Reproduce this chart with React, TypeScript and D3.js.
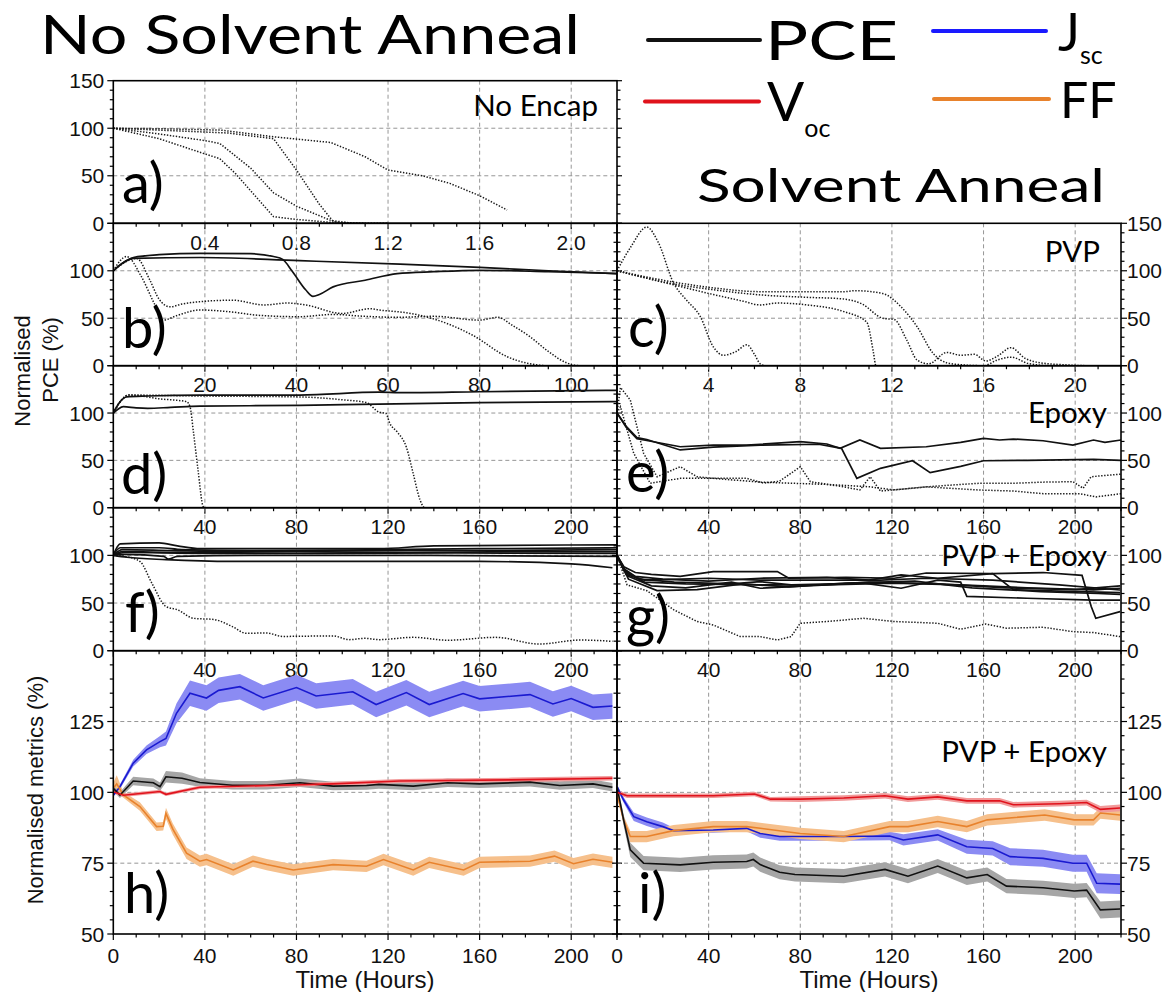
import React from 'react';
import * as d3 from 'd3';

type Pt = [number, number];
type BPt = [number, number, number];

// ---- panel a : No Encap, no anneal (hours 0..2.2)
const aDot1: Pt[] = [[0,100],[0.2,99.5],[0.47,98],[0.7,91],[0.95,85],[1.1,70],[1.2,56],[1.35,50],[1.47,42],[1.6,29],[1.72,14]];
const aDot2: Pt[] = [[0,100],[0.3,97],[0.5,95],[0.7,89],[0.8,56],[0.9,20],[0.96,2],[1.0,0],[1.2,0]];
const aDot3: Pt[] = [[0,100],[0.2,94],[0.4,87],[0.465,84],[0.6,58],[0.7,32],[0.8,18],[0.95,3],[1.05,0],[1.2,0]];
const aDot4: Pt[] = [[0,100],[0.2,89],[0.4,73],[0.465,68],[0.535,52],[0.7,7],[0.8,4],[0.95,1],[1.1,0]];

// ---- panel b : PVP, no anneal (0..110)
const bSolid1: Pt[] = [[0,100],[2,108],[4.4,114],[10,117],[19,118.4],[30,118],[35,115],[37,112],[39,100],[42,80],[43.6,73],[45,75],[48,83],[55,90],[62,97],[70,99],[80,100.5],[95,99],[110,97]];
const bSolid2: Pt[] = [[0,100],[2,108],[4.4,113],[19,114],[40.7,110.6],[62.6,107],[80,103.6],[95,100],[110,97]];
const bDot1: Pt[] = [[0,100],[2.9,115],[6,95],[9,65],[10.9,48],[14,53],[18.9,58.7],[25,57],[32,53],[40.7,51.6],[48,54],[55,52],[62,51],[70,52],[80,48],[84,51],[87,43],[91,30.5],[95,15],[99,3],[102,0],[109,0]];
const bDot2: Pt[] = [[0,100],[5.1,113],[8,90],[10,70],[12.4,62],[15,65],[18.9,67.4],[26,69],[33,64],[38,66],[42,64],[50,55],[56,60],[58,58.7],[65,55],[72.8,44.6],[78.5,32],[86,9.5],[91,2],[95,0],[109,0]];

// ---- panel c : PVP, solvent anneal (0..22)
const cDotPeak: Pt[] = [[0,100],[0.6,125],[1.3,146],[1.8,130],[2.47,87],[3.0,70],[3.63,52],[4.2,20],[4.65,11],[5.2,15],[5.67,22],[6.0,12],[6.25,2],[6.5,0],[10,0]];
const cDotA: Pt[] = [[0,100],[2.5,88],[4.2,82],[6.25,78],[8,78],[9.9,78],[10.4,79],[11.6,76],[12.4,62],[13.1,41],[13.8,13],[14.4,3],[15,1],[16,0],[16.6,6],[17.2,9],[18,2],[19,0],[20,0]];
const cDotB: Pt[] = [[0,100],[2.5,86],[4.2,80],[6.25,74.6],[8.3,72],[9.8,70.5],[10.7,65],[11.6,50],[12.1,48.6],[12.65,27],[13.1,6],[13.6,2],[14.4,14],[15,11],[15.6,12],[16.1,5],[16.6,10],[17.2,19],[17.8,8],[18.5,3],[19.5,1],[20.5,0]];
const cDotC: Pt[] = [[0,100],[2.5,85],[4.2,75],[5.5,68],[6.25,64],[7,66],[8.3,64],[9.9,57],[10.9,46],[11.2,13],[11.3,0],[12,0]];

// ---- panel d : Epoxy, no anneal (0..220)
const dSolid1: Pt[] = [[0,100],[3,112],[5.8,117],[15,118],[37.8,119],[81.5,119],[116,122],[125,121.5],[160,122.5],[220,124]];
const dSolid2: Pt[] = [[0,100],[2,104],[4.4,106.7],[10,105.5],[15,105],[25,106],[37.8,107.4],[81.5,108],[116,109.5],[160,111],[220,112]];
const dDot1: Pt[] = [[0,100],[3,112],[6.7,119],[15,117],[20,115],[26,113.8],[32,112],[33.5,106.7],[35,80],[37,40],[39.3,1],[40,0],[60,0]];
const dDot2: Pt[] = [[0,100],[3,112],[6.7,119],[37.8,118],[81.5,117],[100,114],[110.6,111],[116,101],[119,99.7],[120.8,89],[124,80],[128,64],[131,36],[134,8],[136,0],[150,0]];

// ---- panel e : Epoxy, solvent anneal (0..220)
const eSolid1: Pt[] = [[0,100],[4,85],[8.7,73],[13,71],[27.6,64.4],[42,66],[56.6,66],[62.5,67],[80,69.7],[91.6,67.3],[97.4,62.7],[106,71.5],[115,62.7],[135,64.4],[150,69],[160,73.3],[167,71.5],[173,72.5],[186,70.7],[199,66.2],[208,71.5],[213,69],[220,71.5]];
const eSolid2: Pt[] = [[0,100],[4,86],[8.7,74],[13,72],[27.6,61],[42,64],[62.5,66],[88,67],[98,62.7],[104.7,31],[115,41.6],[129,49.6],[136.7,37],[150,43.6],[160,49.6],[179,50],[208,51],[220,50]];
const eDot1: Pt[] = [[0,100],[1.5,127],[5.8,113.8],[11.6,57.5],[17.5,32.7],[27.6,43.3],[34.9,32.7],[42,31],[56.6,31],[63.9,26],[71,28],[80,43.3],[84.4,27.5],[99,22],[106,18.7],[110.5,32.7],[115,17.6],[135,22],[144,23.6],[158,25.8],[173,25.8],[186,27],[199,27.5],[203.5,20.5],[206.9,32.7],[220,35.5]];
const eDot2: Pt[] = [[0,100],[1.5,106.7],[7.3,57.5],[14.5,25.8],[27.6,31],[42,31],[62.5,27],[91.6,24.6],[110.5,22],[121,18.7],[135,22],[158,18.7],[173,17.6],[186,14.8],[202,14.8],[209,11.4],[220,14.8]];

// ---- panel f : PVP + Epoxy, no anneal
const fS1: Pt[] = [[0,100],[3,112],[20,113],[28,110],[38,107],[80,107],[116,107],[140,110],[220,111]];
const fS2: Pt[] = [[0,100],[3,108],[20,108],[30,106],[60,105],[120,106],[160,107],[220,108]];
const fS3: Pt[] = [[0,100],[4,106],[25,105],[50,104],[100,105],[150,105],[220,106]];
const fS4: Pt[] = [[0,100],[4,104],[30,103],[80,104],[130,103],[180,104],[220,104]];
const fS5: Pt[] = [[0,100],[5,103],[40,102],[90,102],[150,102.5],[220,102]];
const fS6: Pt[] = [[0,100],[5,101],[22,99],[24,96],[28,99],[60,100],[120,100],[220,99]];
const fS7: Pt[] = [[0,100],[6,98],[23,95.5],[52,93.6],[116,93.6],[160,93.6],[200,91],[218,87]];
const fDot: Pt[] = [[0,100],[5,99],[11.6,93.7],[17,70],[23,46.3],[28,43],[35,34],[44,32.7],[52,25.3],[58,18.3],[67,18.6],[74,15],[96,15.5],[103,11.6],[110,13],[116,11.6],[131,14],[146,11],[167,14],[186,7],[204,11.2],[218,9.8]];

// ---- panel g : PVP + Epoxy, solvent anneal
const gS1: Pt[] = [[0,100],[3,88],[8,82],[15,80],[27.6,78],[42,83],[62.5,83],[70,83],[75,76],[100,77],[121,76],[135,81.5],[164,80.8],[186,82],[203,79],[207,46.4],[209,34],[219.6,41]];
const gS2: Pt[] = [[0,100],[3,86],[8,78],[20,75],[40,73],[62.5,76],[91.6,77],[110,74],[124,79.6],[140,76],[164,80.8],[173,64],[193,62.5],[219.6,61]];
const gS3: Pt[] = [[0,100],[3,84],[10,75],[25,72],[50,70],[62.5,72.5],[76,69],[107.6,70.8],[124,65.5],[140,74],[150,72],[152.7,57],[179,55],[208,53],[219.6,53]];
const gS4: Pt[] = [[0,100],[4,82],[12,72],[30,70],[62.5,69],[91.6,69],[121,70.8],[150,69],[179,66],[208,63.7],[219.6,65.5]];
const gS5: Pt[] = [[0,100],[4,80],[12,74],[40,76],[62.5,74],[83,74],[115,74],[135,76],[164,74],[193,69],[219.6,63.7]];
const gS6: Pt[] = [[0,100],[5,78],[15,68],[30,66],[50,72],[62.5,65.5],[91.6,69],[110,72],[140,70],[170,66],[200,64],[219.6,68]];
const gS7: Pt[] = [[0,100],[5,75],[17.5,63],[35,64],[55,70],[75,67],[100,71],[130,73],[155,66],[185,62],[210,60],[219.6,59]];
const gDot: Pt[] = [[0,100],[4.4,69],[13,63],[24.7,43],[35,30.6],[42,27],[53.8,14.8],[62.5,14.8],[70,11.2],[76,14.8],[80,28.8],[91.6,30.6],[107.6,34],[121,30.6],[140,28.8],[150,22.5],[161,28],[170,23.6],[186,24.6],[199,20],[208,19],[219.6,14.8]];

// ---- panel h : metrics, no anneal  [time, mean, half-spread]
const hJsc: BPt[] = [[0,99,0.5],[2.9,102,0.8],[8.7,110.3,1.2],[14.5,115,1.5],[20.4,117.9,2],[23,119,2.5],[27.6,127.9,3.5],[33.5,135,4.5],[40.7,133.3,4.5],[46,136,4.5],[55.3,137.3,4.5],[65.5,133.3,4.5],[80,137,4.5],[88.6,134,4.5],[104.6,135.5,4.5],[114.8,131,4.5],[128,135.2,4.5],[138,131,4.5],[152.8,134.9,4.5],[160,133,4.5],[182,134.5,4.5],[192,131.2,4.5],[200,133.1,4.5],[209.5,130,4.5],[218,130.5,4.5]];
const hPce: BPt[] = [[0,101.4,1],[2.9,99,1],[8.7,104,1.5],[17.5,103.4,1.5],[20.4,102,1.5],[23,105.5,2],[30,105,2],[37.8,103.5,1.5],[52,102.5,1.5],[67,102.5,1.5],[81.5,103.4,1.5],[96,102.2,1.5],[110.6,102.4,1.5],[116,102.8,1.5],[131,102.2,1.5],[146,103.4,1.5],[160,103,1.5],[182,103.6,1.5],[195,102.4,1.5],[209.5,103,1.5],[218,101.8,1.5]];
const hVoc: BPt[] = [[0,100.2,0.6],[4.4,99,0.6],[20.4,100.3,0.6],[23,99.3,0.6],[37.8,101.8,0.6],[67,102.4,0.6],[96,103,0.7],[125,104,0.7],[174,104.4,0.8],[218,105,0.8]];
const hFf: BPt[] = [[0,101.4,2],[1.5,103,3],[4.4,99.1,1],[11.6,95,1.5],[18.9,87.9,1.5],[21.8,88,1.5],[23,92.6,2],[26,87,2],[32,78.5,2],[37.8,75.7,2],[40.7,76.3,2],[52.4,72.6,2],[61,75.7,2],[67,74.5,2],[78.6,72.6,2],[96,74.5,2],[110.6,73.9,2],[118,76.3,2],[131,72.6,2],[138,75.3,2],[153,72.6,2],[160,75.3,2],[182,75.7,2],[192.7,77.5,2],[201,74.8,2],[209.5,76.4,2],[218,75.3,2]];

// ---- panel i : metrics, solvent anneal
const iJsc: BPt[] = [[0,102,0.8],[2.9,97.3,1],[7.3,91.4,1.5],[13,89.6,1.5],[20,87.9,1.5],[24.7,86.5,1],[42,86.7,1],[56.6,87.3,1],[62.5,85.5,1.5],[71,84.4,1.5],[80,84.4,1.5],[99,84.4,1.5],[119,84.6,1.5],[125,83.2,2],[140,85,2],[152.7,80.8,2.5],[164,80.2,2.5],[171.6,77.3,3],[186,76.7,3],[199,75,3],[205,75,3],[209.4,67.9,3.5],[219.6,67.6,3.5]];
const iFf: BPt[] = [[0,99.6,1],[2.9,90.2,1.5],[5.8,84.4,2],[13,84.4,2],[24.7,86.5,2],[42,87.9,2],[56.6,87.9,2],[62.5,87.3,2],[80,85.5,2],[99,84.4,2],[119,87.9,2],[127,87.9,2],[140,89.7,2],[152.7,87.9,2],[161.6,90.3,2],[186.7,92,2],[199.6,90.3,2],[208,90.3,2],[211,92.7,2],[219.6,92,2]];
const iVoc: BPt[] = [[0,100,0.8],[4.4,98.8,0.8],[42,98.8,0.8],[60,99.4,0.8],[67,97.6,0.8],[80,97.6,1],[99,98,1],[117,98.8,1],[127,97.6,1],[140,98.4,1],[152.7,97,1],[167,97,1],[173,95.6,1],[193,96,1],[205,96.4,1],[211,94,1.2],[219.6,94.5,1.2]];
const iPce: BPt[] = [[0,102,1],[2.9,90.2,2],[5.8,79.7,2.5],[11.6,75,2.5],[27.6,74.4,2.5],[42,75.3,2.5],[56.6,75.6,2.5],[59.5,76.3,2.5],[62.5,74.5,2.5],[71,71.8,2.5],[77.7,71,2.5],[99,70.4,2.5],[117,72.8,2.5],[127,70.4,2.5],[140,74,2.5],[152.7,69.8,2.5],[161.6,71,2.5],[170,66.9,2.5],[186,66.3,2.5],[199.6,65.2,2.5],[205,65.5,2.5],[211,58.5,3],[219.6,58.8,3]];

// tick labels
const aTicks = [0.4, 0.8, 1.2, 1.6, 2.0];
const bTicks = [20, 40, 60, 80, 100];
const cTicks = [4, 8, 12, 16, 20];
const hourTicks = [40, 80, 120, 160, 200];
const bottomTicks = [0, 40, 80, 120, 160, 200];
const pceYLabels = [0, 50, 100];
const pceYLabelsTop = [0, 50, 100, 150];
const metricYLabels = [50, 75, 100, 125];

const C = {
  jsc: '#1a1ad0', jscBand: '#8b8bf3',
  voc: '#e0121c', vocBand: '#f19a9a',
  ff: '#e8822c', ffBand: '#f6c08c',
  pce: '#111111', pceBand: '#a6a6a6',
  grid: '#8a8a8a',
};

const SANS = "'Liberation Sans', Arial, sans-serif";
const HUM = "Lato, 'Open Sans', sans-serif";

const COLS: [number, number][] = [[113.3, 617], [617, 1121]];

interface Band { d: BPt[]; line: string; fill: string; }
interface Panel {
  col: 0 | 1; top: number; bottom: number; xMax: number; yMin: number; yMax: number;
  xStep: number; xMinor: number; xLabels: number[]; xFmt: (v: number) => string;
  yLabels: number[]; yGrid: number[]; yMinor: number;
  solids?: Pt[][]; dots?: Pt[][]; bands?: Band[];
  letter: string; lx: number; ly: number;
  tag?: string; tx?: number; ty?: number;
  linear?: boolean;
}

const f0 = (v: number) => String(v);
const f1 = d3.format('.1f');

const panels: Panel[] = [
  { col: 0, top: 80.7, bottom: 223.3, xMax: 2.2, yMin: 0, yMax: 150, xStep: 0.4, xMinor: 0.1, xLabels: aTicks, xFmt: f1,
    yLabels: pceYLabelsTop, yGrid: [50, 100], yMinor: 10, dots: [aDot1, aDot2, aDot3, aDot4],
    letter: 'a)', lx: 122, ly: 203, tag: 'No Encap', tx: 598, ty: 116, linear: true },
  { col: 0, top: 223.3, bottom: 365.7, xMax: 110, yMin: 0, yMax: 150, xStep: 20, xMinor: 5, xLabels: bTicks, xFmt: f0,
    yLabels: pceYLabels, yGrid: [50, 100], yMinor: 10, solids: [bSolid1, bSolid2], dots: [bDot1, bDot2],
    letter: 'b)', lx: 122, ly: 348 },
  { col: 0, top: 365.7, bottom: 507.7, xMax: 220, yMin: 0, yMax: 150, xStep: 40, xMinor: 10, xLabels: hourTicks, xFmt: f0,
    yLabels: pceYLabels, yGrid: [50, 100], yMinor: 10, solids: [dSolid1, dSolid2], dots: [dDot1, dDot2],
    letter: 'd)', lx: 121, ly: 494 },
  { col: 0, top: 507.7, bottom: 650.7, xMax: 220, yMin: 0, yMax: 150, xStep: 40, xMinor: 10, xLabels: hourTicks, xFmt: f0,
    yLabels: pceYLabels, yGrid: [50, 100], yMinor: 10, solids: [fS1, fS2, fS3, fS4, fS5, fS6, fS7], dots: [fDot],
    letter: 'f)', lx: 125, ly: 632 },
  { col: 0, top: 650.7, bottom: 934, xMax: 220, yMin: 50, yMax: 150, xStep: 40, xMinor: 10, xLabels: bottomTicks, xFmt: f0,
    yLabels: metricYLabels, yGrid: [75, 100, 125], yMinor: 5,
    bands: [{ d: hJsc, line: C.jsc, fill: C.jscBand }, { d: hFf, line: C.ff, fill: C.ffBand }, { d: hPce, line: C.pce, fill: C.pceBand }, { d: hVoc, line: C.voc, fill: C.vocBand }],
    letter: 'h)', lx: 124, ly: 913 },
  { col: 1, top: 223.3, bottom: 365.7, xMax: 22, yMin: 0, yMax: 150, xStep: 4, xMinor: 1, xLabels: cTicks, xFmt: f0,
    yLabels: pceYLabelsTop, yGrid: [50, 100], yMinor: 10, dots: [cDotPeak, cDotA, cDotB, cDotC],
    letter: 'c)', lx: 628, ly: 347, tag: 'PVP', tx: 1100, ty: 262 },
  { col: 1, top: 365.7, bottom: 507.7, xMax: 220, yMin: 0, yMax: 150, xStep: 40, xMinor: 10, xLabels: hourTicks, xFmt: f0,
    yLabels: pceYLabels, yGrid: [50, 100], yMinor: 10, solids: [eSolid1, eSolid2], dots: [eDot1, eDot2],
    letter: 'e)', lx: 626, ly: 492, tag: 'Epoxy', tx: 1107, ty: 423, linear: true },
  { col: 1, top: 507.7, bottom: 650.7, xMax: 220, yMin: 0, yMax: 150, xStep: 40, xMinor: 10, xLabels: hourTicks, xFmt: f0,
    yLabels: pceYLabels, yGrid: [50, 100], yMinor: 10, solids: [gS1, gS2, gS3, gS4, gS5, gS6, gS7], dots: [gDot],
    letter: 'g)', lx: 626, ly: 636, tag: 'PVP + Epoxy', tx: 1107, ty: 566, linear: true },
  { col: 1, top: 650.7, bottom: 934, xMax: 220, yMin: 50, yMax: 150, xStep: 40, xMinor: 10, xLabels: bottomTicks, xFmt: f0,
    yLabels: metricYLabels, yGrid: [75, 100, 125], yMinor: 5,
    bands: [{ d: iJsc, line: C.jsc, fill: C.jscBand }, { d: iFf, line: C.ff, fill: C.ffBand }, { d: iPce, line: C.pce, fill: C.pceBand }, { d: iVoc, line: C.voc, fill: C.vocBand }],
    letter: 'i)', lx: 638, ly: 913, tag: 'PVP + Epoxy', tx: 1107, ty: 762 },
];

const PanelView: React.FC<{ p: Panel; idx: number }> = ({ p, idx }) => {
  const [x0, x1] = COLS[p.col];
  const x = d3.scaleLinear().domain([0, p.xMax]).range([x0, x1]);
  const y = d3.scaleLinear().domain([p.yMin, p.yMax]).range([p.bottom, p.top]);
  const curve = p.linear ? d3.curveLinear : d3.curveMonotoneX;
  const line = d3.line<Pt>().x(d => x(d[0])).y(d => y(d[1])).curve(curve);
  const bLine = d3.line<BPt>().x(d => x(d[0])).y(d => y(d[1])).curve(d3.curveLinear);
  const bArea = d3.area<BPt>().x(d => x(d[0])).y0(d => y(d[1] - d[2])).y1(d => y(d[1] + d[2])).curve(d3.curveLinear);
  const clipId = `clip${idx}`;
  const xt = d3.range(0, p.xMax + 1e-9, p.xMinor);
  const isMajor = (v: number) => Math.abs(v / p.xStep - Math.round(v / p.xStep)) < 1e-6;
  const yt = d3.range(p.yMin, p.yMax + 1e-9, p.yMinor);
  const yMajorStep = p.yMax - p.yMin === 100 ? 25 : 50;
  const isYMajor = (v: number) => Math.abs((v - p.yMin) / yMajorStep - Math.round((v - p.yMin) / yMajorStep)) < 1e-6;
  const outerX = p.col === 0 ? x0 : x1;
  const midX = p.col === 0 ? x1 : x0;
  const dir = p.col === 0 ? -1 : 1;
  const isBottom = p.bottom > 900;
  return (
    <g>
      <defs>
        <clipPath id={clipId}><rect x={x0} y={p.top} width={x1 - x0} height={p.bottom - p.top} /></clipPath>
      </defs>
      {/* grid */}
      {p.xLabels.filter(v => v > 0).map(v => (
        <line key={'gx' + v} x1={x(v)} x2={x(v)} y1={p.top} y2={p.bottom} stroke={C.grid} strokeWidth={0.9} strokeDasharray="4 3" />
      ))}
      {p.yGrid.map(v => (
        <line key={'gy' + v} x1={x0} x2={x1} y1={y(v)} y2={y(v)} stroke={C.grid} strokeWidth={0.9} strokeDasharray="4 3" />
      ))}
      <g clipPath={`url(#${clipId})`}>
        {(p.bands || []).map((b, i) => (
          <path key={'ba' + i} d={bArea(b.d) || ''} fill={b.fill} stroke="none" />
        ))}
        {(p.bands || []).map((b, i) => (
          <path key={'bl' + i} d={bLine(b.d) || ''} fill="none" stroke={b.line} strokeWidth={1.6} />
        ))}
        {(p.dots || []).map((s, i) => (
          <path key={'d' + i} d={line(s) || ''} fill="none" stroke="#1a1a1a" strokeWidth={1.5} strokeDasharray="1.4 1.6" />
        ))}
        {(p.solids || []).map((s, i) => (
          <path key={'s' + i} d={line(s) || ''} fill="none" stroke="#111" strokeWidth={1.7} />
        ))}
      </g>
      {/* frame */}
      <rect x={x0} y={p.top} width={x1 - x0} height={p.bottom - p.top} fill="none" stroke="#000" strokeWidth={1.6} />
      {/* y ticks, outer side */}
      {yt.map(v => (
        <line key={'yt' + v} x1={outerX} x2={outerX + dir * (isYMajor(v) ? 6 : 3.5)} y1={y(v)} y2={y(v)} stroke="#000" strokeWidth={1.2} />
      ))}
      {/* y ticks, middle line */}
      {yt.map(v => (
        <line key={'ym' + v} x1={midX} x2={midX - dir * (isYMajor(v) ? 5 : 3.5)} y1={y(v)} y2={y(v)} stroke="#000" strokeWidth={1.2} />
      ))}
      {/* x ticks at bottom */}
      {xt.map(v => (
        <line key={'xt' + v} x1={x(v)} x2={x(v)} y1={p.bottom} y2={p.bottom + (isMajor(v) ? 6 : 3.5)} stroke="#000" strokeWidth={1.2} />
      ))}
      {p.xLabels.map(v => (
        <text key={'xl' + v} x={x(v)} y={p.bottom + (isBottom ? 29 : 26.5)} textAnchor="middle" fontFamily={SANS} fontSize={21} fill="#111">{p.xFmt(v)}</text>
      ))}
      {p.yLabels.map(v => (
        <text key={'yl' + v} x={p.col === 0 ? x0 - 9 : x1 + 6} y={y(v) + 7.5} textAnchor={p.col === 0 ? 'end' : 'start'} fontFamily={SANS} fontSize={21} fill="#111">{v}</text>
      ))}
      <text x={p.lx} y={p.ly} fontFamily={HUM} fontSize={56} fill="#000">{p.letter}</text>
      {p.tag && <text x={p.tx} y={p.ty} textAnchor="end" fontFamily={HUM} fontSize={29.5} fill="#000">{p.tag}</text>}
    </g>
  );
};

const legendItems = [
  { key: 'PCE', color: C.pce, x1: 648, x2: 760, ly: 40, tx: 765, ty: 60, main: 'PCE', sub: '', subDy: 0, size: 55, len: 133 },
  { key: 'Voc', color: C.voc, x1: 645, x2: 759, ly: 101.5, tx: 767, ty: 121, main: 'V', sub: 'oc', subDy: 16, size: 55, len: 0 },
  { key: 'Jsc', color: '#1a1aff', x1: 933, x2: 1046, ly: 31, tx: 1058, ty: 51, main: 'J', sub: 'sc', subDy: 13, size: 52, len: 0 },
  { key: 'FF', color: C.ff, x1: 934, x2: 1049, ly: 99, tx: 1060, ty: 118, main: 'FF', sub: '', subDy: 0, size: 50, len: 0 },
];

export default function App() {
  return (
    <svg width={1169} height={992} style={{ position: 'absolute', left: 0, top: 0, background: '#fff' }}>
      <rect width={1169} height={992} fill="#fff" />
      <text x={40} y={54} fontFamily={HUM} fontSize={54} textLength={540} lengthAdjust="spacingAndGlyphs" fill="#000">No Solvent Anneal</text>
      <text x={697} y={202} fontFamily={HUM} fontSize={47} textLength={408} lengthAdjust="spacingAndGlyphs" fill="#000">Solvent Anneal</text>
      {legendItems.map(it => (
        <g key={it.key}>
          <line x1={it.x1} x2={it.x2} y1={it.ly} y2={it.ly} stroke={it.color} strokeWidth={4} strokeLinecap="round" />
          {it.len > 0 ? (
            <text x={it.tx} y={it.ty} fontFamily={HUM} fontSize={it.size} textLength={it.len} lengthAdjust="spacingAndGlyphs" fill="#000">{it.main}</text>
          ) : (
            <text x={it.tx} y={it.ty} fontFamily={HUM} fontSize={it.size} fill="#000">
              {it.main}
              {it.sub && <tspan fontSize={25} dy={it.subDy}>{it.sub}</tspan>}
            </text>
          )}
        </g>
      ))}
      {panels.map((p, i) => <PanelView key={i} p={p} idx={i} />)}
      <text transform="translate(30,371) rotate(-90)" textAnchor="middle" fontFamily={SANS} fontSize={22} fill="#111">Normalised</text>
      <text transform="translate(58,360) rotate(-90)" textAnchor="middle" fontFamily={SANS} fontSize={22} fill="#111">PCE (%)</text>
      <text transform="translate(43,790) rotate(-90)" textAnchor="middle" fontFamily={SANS} fontSize={22} fill="#111">Normalised metrics (%)</text>
      <text x={365} y={988} textAnchor="middle" fontFamily={SANS} fontSize={24} fill="#111">Time (Hours)</text>
      <text x={869} y={988} textAnchor="middle" fontFamily={SANS} fontSize={24} fill="#111">Time (Hours)</text>
    </svg>
  );
}
